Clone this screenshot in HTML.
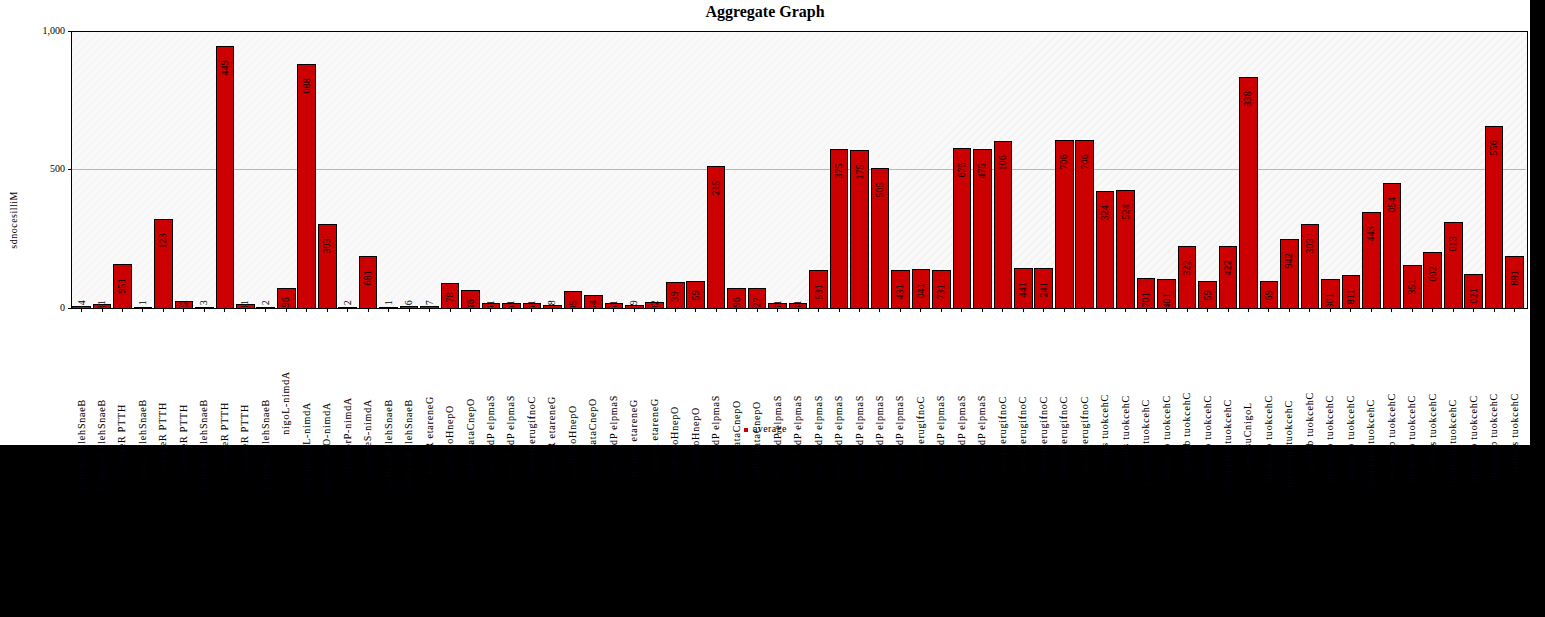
<!DOCTYPE html>
<html><head><meta charset="utf-8"><style>
html,body{margin:0;padding:0;background:#fff;}
body{width:1545px;height:617px;position:relative;overflow:hidden;font-family:"Liberation Serif",serif;color:#000;}
.title{position:absolute;left:0;width:1530px;top:3px;text-align:center;font-weight:bold;font-size:16px;line-height:18px;}
.plot{position:absolute;left:70.5px;top:30.5px;width:1455px;height:276px;border:1.6px solid transparent;
 background-color:#f9f9f9;
 background-image:repeating-linear-gradient(-45deg, rgba(0,0,0,0) 0px, rgba(0,0,0,0) 4.66px, #f2f2f2 4.66px, #f2f2f2 5.66px);}
.grid{position:absolute;left:72px;width:1454px;top:169px;height:1px;background:#b2b8b8;}
.b{position:absolute;width:16.6px;background:#cc0000;border:1px solid #000;border-bottom:none;box-sizing:content-box;}
.pb{position:absolute;left:70.5px;top:30.5px;width:1455px;height:276px;border:1.6px solid #000;}
.xt{position:absolute;top:309px;width:1px;height:3px;background:#000;}
.yt{position:absolute;left:67.5px;width:4px;height:1.4px;background:#000;}
.yl{position:absolute;right:1480px;font-size:10px;line-height:10px;text-align:right;}
.v,.xl{position:absolute;writing-mode:vertical-rl;transform:rotate(180deg);font-size:10px;line-height:12px;white-space:nowrap;}
.xl{letter-spacing:0.8px;-webkit-text-stroke:0.07px #000;}
.v{letter-spacing:0.2px;}
.ytitle{position:absolute;left:8px;top:191px;writing-mode:vertical-rl;transform:rotate(180deg);letter-spacing:0.5px;font-size:10px;line-height:12px;white-space:nowrap;}
.clip{position:absolute;left:0;top:0;width:1530px;height:307px;overflow:hidden;}
.dk{position:absolute;left:0;top:445px;width:1530px;height:172px;overflow:hidden;color:#040414;}
.blk{position:absolute;background:#000;}
.leg{position:absolute;left:744px;top:428px;width:4px;height:4px;background:#cc0000;}
.legt{position:absolute;left:753px;top:423px;font-size:10px;line-height:12px;letter-spacing:0.4px;}
</style></head><body>
<div class="title">Aggregate Graph</div>
<div class="plot"></div>
<div class="grid"></div>
<div class="b" style="left:72.23px;top:306.39px;height:1.11px"></div>
<div class="b" style="left:92.70px;top:303.63px;height:3.87px"></div>
<div class="b" style="left:113.18px;top:263.54px;height:43.96px"></div>
<div class="b" style="left:133.65px;top:307.22px;height:0.28px"></div>
<div class="b" style="left:154.12px;top:218.74px;height:88.76px"></div>
<div class="b" style="left:174.59px;top:301.42px;height:6.08px"></div>
<div class="b" style="left:195.07px;top:306.67px;height:0.83px"></div>
<div class="b" style="left:215.54px;top:46.48px;height:261.02px"></div>
<div class="b" style="left:236.01px;top:303.63px;height:3.87px"></div>
<div class="b" style="left:256.49px;top:306.95px;height:0.55px"></div>
<div class="b" style="left:276.96px;top:288.42px;height:19.08px"></div>
<div class="b" style="left:297.43px;top:64.18px;height:243.32px"></div>
<div class="b" style="left:317.91px;top:223.72px;height:83.78px"></div>
<div class="b" style="left:338.38px;top:306.95px;height:0.55px"></div>
<div class="b" style="left:358.85px;top:256.07px;height:51.43px"></div>
<div class="b" style="left:379.32px;top:307.22px;height:0.28px"></div>
<div class="b" style="left:399.80px;top:305.84px;height:1.66px"></div>
<div class="b" style="left:420.27px;top:305.56px;height:1.94px"></div>
<div class="b" style="left:440.74px;top:283.44px;height:24.06px"></div>
<div class="b" style="left:461.22px;top:289.80px;height:17.70px"></div>
<div class="b" style="left:481.69px;top:303.08px;height:4.42px"></div>
<div class="b" style="left:502.16px;top:303.08px;height:4.42px"></div>
<div class="b" style="left:522.64px;top:303.08px;height:4.42px"></div>
<div class="b" style="left:543.11px;top:305.29px;height:2.21px"></div>
<div class="b" style="left:563.58px;top:291.19px;height:16.31px"></div>
<div class="b" style="left:584.06px;top:295.06px;height:12.44px"></div>
<div class="b" style="left:604.53px;top:303.08px;height:4.42px"></div>
<div class="b" style="left:625.00px;top:305.01px;height:2.49px"></div>
<div class="b" style="left:645.47px;top:301.97px;height:5.53px"></div>
<div class="b" style="left:665.95px;top:281.79px;height:25.71px"></div>
<div class="b" style="left:686.42px;top:281.23px;height:26.27px"></div>
<div class="b" style="left:706.89px;top:165.93px;height:141.57px"></div>
<div class="b" style="left:727.37px;top:288.42px;height:19.08px"></div>
<div class="b" style="left:747.84px;top:287.59px;height:19.91px"></div>
<div class="b" style="left:768.31px;top:303.08px;height:4.42px"></div>
<div class="b" style="left:788.78px;top:303.08px;height:4.42px"></div>
<div class="b" style="left:809.26px;top:270.17px;height:37.33px"></div>
<div class="b" style="left:829.73px;top:149.07px;height:158.43px"></div>
<div class="b" style="left:850.20px;top:149.62px;height:157.88px"></div>
<div class="b" style="left:870.68px;top:167.87px;height:139.63px"></div>
<div class="b" style="left:891.15px;top:270.45px;height:37.05px"></div>
<div class="b" style="left:911.62px;top:268.79px;height:38.71px"></div>
<div class="b" style="left:932.10px;top:269.62px;height:37.88px"></div>
<div class="b" style="left:952.57px;top:148.24px;height:159.26px"></div>
<div class="b" style="left:973.04px;top:148.79px;height:158.71px"></div>
<div class="b" style="left:993.51px;top:141.32px;height:166.18px"></div>
<div class="b" style="left:1013.99px;top:267.68px;height:39.82px"></div>
<div class="b" style="left:1034.46px;top:268.24px;height:39.26px"></div>
<div class="b" style="left:1054.93px;top:139.66px;height:167.84px"></div>
<div class="b" style="left:1075.41px;top:139.66px;height:167.84px"></div>
<div class="b" style="left:1095.88px;top:190.54px;height:116.96px"></div>
<div class="b" style="left:1116.35px;top:189.99px;height:117.51px"></div>
<div class="b" style="left:1136.83px;top:277.91px;height:29.59px"></div>
<div class="b" style="left:1157.30px;top:278.74px;height:28.76px"></div>
<div class="b" style="left:1177.77px;top:245.84px;height:61.66px"></div>
<div class="b" style="left:1198.24px;top:281.23px;height:26.27px"></div>
<div class="b" style="left:1218.72px;top:245.56px;height:61.94px"></div>
<div class="b" style="left:1239.19px;top:77.18px;height:230.32px"></div>
<div class="b" style="left:1259.66px;top:280.96px;height:26.54px"></div>
<div class="b" style="left:1280.14px;top:238.65px;height:68.85px"></div>
<div class="b" style="left:1300.61px;top:223.72px;height:83.78px"></div>
<div class="b" style="left:1321.08px;top:279.02px;height:28.48px"></div>
<div class="b" style="left:1341.56px;top:274.87px;height:32.63px"></div>
<div class="b" style="left:1362.03px;top:212.38px;height:95.12px"></div>
<div class="b" style="left:1382.50px;top:183.07px;height:124.43px"></div>
<div class="b" style="left:1402.97px;top:265.20px;height:42.30px"></div>
<div class="b" style="left:1423.45px;top:252.20px;height:55.30px"></div>
<div class="b" style="left:1443.92px;top:221.78px;height:85.72px"></div>
<div class="b" style="left:1464.39px;top:274.32px;height:33.18px"></div>
<div class="b" style="left:1484.87px;top:126.39px;height:181.11px"></div>
<div class="b" style="left:1505.34px;top:255.52px;height:51.98px"></div>
<div class="xt" style="left:81.03px"></div>
<div class="xt" style="left:101.50px"></div>
<div class="xt" style="left:121.98px"></div>
<div class="xt" style="left:142.45px"></div>
<div class="xt" style="left:162.92px"></div>
<div class="xt" style="left:183.39px"></div>
<div class="xt" style="left:203.87px"></div>
<div class="xt" style="left:224.34px"></div>
<div class="xt" style="left:244.81px"></div>
<div class="xt" style="left:265.29px"></div>
<div class="xt" style="left:285.76px"></div>
<div class="xt" style="left:306.23px"></div>
<div class="xt" style="left:326.71px"></div>
<div class="xt" style="left:347.18px"></div>
<div class="xt" style="left:367.65px"></div>
<div class="xt" style="left:388.12px"></div>
<div class="xt" style="left:408.60px"></div>
<div class="xt" style="left:429.07px"></div>
<div class="xt" style="left:449.54px"></div>
<div class="xt" style="left:470.02px"></div>
<div class="xt" style="left:490.49px"></div>
<div class="xt" style="left:510.96px"></div>
<div class="xt" style="left:531.44px"></div>
<div class="xt" style="left:551.91px"></div>
<div class="xt" style="left:572.38px"></div>
<div class="xt" style="left:592.86px"></div>
<div class="xt" style="left:613.33px"></div>
<div class="xt" style="left:633.80px"></div>
<div class="xt" style="left:654.27px"></div>
<div class="xt" style="left:674.75px"></div>
<div class="xt" style="left:695.22px"></div>
<div class="xt" style="left:715.69px"></div>
<div class="xt" style="left:736.17px"></div>
<div class="xt" style="left:756.64px"></div>
<div class="xt" style="left:777.11px"></div>
<div class="xt" style="left:797.58px"></div>
<div class="xt" style="left:818.06px"></div>
<div class="xt" style="left:838.53px"></div>
<div class="xt" style="left:859.00px"></div>
<div class="xt" style="left:879.48px"></div>
<div class="xt" style="left:899.95px"></div>
<div class="xt" style="left:920.42px"></div>
<div class="xt" style="left:940.90px"></div>
<div class="xt" style="left:961.37px"></div>
<div class="xt" style="left:981.84px"></div>
<div class="xt" style="left:1002.31px"></div>
<div class="xt" style="left:1022.79px"></div>
<div class="xt" style="left:1043.26px"></div>
<div class="xt" style="left:1063.73px"></div>
<div class="xt" style="left:1084.21px"></div>
<div class="xt" style="left:1104.68px"></div>
<div class="xt" style="left:1125.15px"></div>
<div class="xt" style="left:1145.63px"></div>
<div class="xt" style="left:1166.10px"></div>
<div class="xt" style="left:1186.57px"></div>
<div class="xt" style="left:1207.04px"></div>
<div class="xt" style="left:1227.52px"></div>
<div class="xt" style="left:1247.99px"></div>
<div class="xt" style="left:1268.46px"></div>
<div class="xt" style="left:1288.94px"></div>
<div class="xt" style="left:1309.41px"></div>
<div class="xt" style="left:1329.88px"></div>
<div class="xt" style="left:1350.36px"></div>
<div class="xt" style="left:1370.83px"></div>
<div class="xt" style="left:1391.30px"></div>
<div class="xt" style="left:1411.77px"></div>
<div class="xt" style="left:1432.25px"></div>
<div class="xt" style="left:1452.72px"></div>
<div class="xt" style="left:1473.19px"></div>
<div class="xt" style="left:1493.67px"></div>
<div class="xt" style="left:1514.14px"></div>
<div class="pb"></div>
<div class="yt" style="top:30.5px"></div>
<div class="yt" style="top:168.5px"></div>
<div class="yt" style="top:307.5px"></div>
<div class="yl" style="top:26px">1,000</div>
<div class="yl" style="top:164px">500</div>
<div class="yl" style="top:303px">0</div>
<div class="ytitle">sdnocesilliM</div>
<div class="clip"><div class="v" style="left:75.53px;top:299.50px">4</div>
<div class="v" style="left:96.00px;top:299.50px">41</div>
<div class="v" style="left:116.48px;top:277.54px">951</div>
<div class="v" style="left:136.95px;top:299.50px">1</div>
<div class="v" style="left:157.42px;top:232.74px">123</div>
<div class="v" style="left:177.89px;top:299.50px">22</div>
<div class="v" style="left:198.37px;top:299.50px">3</div>
<div class="v" style="left:218.84px;top:60.48px">449</div>
<div class="v" style="left:239.31px;top:299.50px">41</div>
<div class="v" style="left:259.79px;top:299.50px">2</div>
<div class="v" style="left:280.26px;top:297.42px">96</div>
<div class="v" style="left:300.73px;top:78.18px">088</div>
<div class="v" style="left:321.21px;top:237.72px">303</div>
<div class="v" style="left:341.68px;top:299.50px">2</div>
<div class="v" style="left:362.15px;top:270.07px">681</div>
<div class="v" style="left:382.62px;top:299.50px">1</div>
<div class="v" style="left:403.10px;top:299.50px">6</div>
<div class="v" style="left:423.57px;top:299.50px">7</div>
<div class="v" style="left:444.04px;top:292.44px">78</div>
<div class="v" style="left:464.52px;top:298.80px">46</div>
<div class="v" style="left:484.99px;top:299.50px">61</div>
<div class="v" style="left:505.46px;top:299.50px">61</div>
<div class="v" style="left:525.94px;top:299.50px">61</div>
<div class="v" style="left:546.41px;top:299.50px">8</div>
<div class="v" style="left:566.88px;top:299.50px">95</div>
<div class="v" style="left:587.36px;top:299.50px">54</div>
<div class="v" style="left:607.83px;top:299.50px">61</div>
<div class="v" style="left:628.30px;top:299.50px">9</div>
<div class="v" style="left:648.77px;top:299.50px">02</div>
<div class="v" style="left:669.25px;top:290.79px">39</div>
<div class="v" style="left:689.72px;top:290.23px">59</div>
<div class="v" style="left:710.19px;top:179.93px">215</div>
<div class="v" style="left:730.67px;top:297.42px">96</div>
<div class="v" style="left:751.14px;top:296.59px">27</div>
<div class="v" style="left:771.61px;top:299.50px">61</div>
<div class="v" style="left:792.08px;top:299.50px">61</div>
<div class="v" style="left:812.56px;top:284.17px">531</div>
<div class="v" style="left:833.03px;top:163.07px">375</div>
<div class="v" style="left:853.50px;top:163.62px">175</div>
<div class="v" style="left:873.98px;top:181.87px">505</div>
<div class="v" style="left:894.45px;top:284.45px">431</div>
<div class="v" style="left:914.92px;top:282.79px">041</div>
<div class="v" style="left:935.40px;top:283.62px">731</div>
<div class="v" style="left:955.87px;top:162.24px">675</div>
<div class="v" style="left:976.34px;top:162.79px">475</div>
<div class="v" style="left:996.81px;top:155.32px">106</div>
<div class="v" style="left:1017.29px;top:281.68px">441</div>
<div class="v" style="left:1037.76px;top:282.24px">241</div>
<div class="v" style="left:1058.23px;top:153.66px">706</div>
<div class="v" style="left:1078.71px;top:153.66px">706</div>
<div class="v" style="left:1099.18px;top:204.54px">324</div>
<div class="v" style="left:1119.65px;top:203.99px">524</div>
<div class="v" style="left:1140.13px;top:291.91px">701</div>
<div class="v" style="left:1160.60px;top:292.74px">401</div>
<div class="v" style="left:1181.07px;top:259.84px">322</div>
<div class="v" style="left:1201.54px;top:290.23px">59</div>
<div class="v" style="left:1222.02px;top:259.56px">422</div>
<div class="v" style="left:1242.49px;top:91.18px">338</div>
<div class="v" style="left:1262.96px;top:289.96px">69</div>
<div class="v" style="left:1283.44px;top:252.65px">942</div>
<div class="v" style="left:1303.91px;top:237.72px">303</div>
<div class="v" style="left:1324.38px;top:293.02px">301</div>
<div class="v" style="left:1344.86px;top:288.87px">811</div>
<div class="v" style="left:1365.33px;top:226.38px">443</div>
<div class="v" style="left:1385.80px;top:197.07px">054</div>
<div class="v" style="left:1406.27px;top:279.20px">351</div>
<div class="v" style="left:1426.75px;top:266.20px">002</div>
<div class="v" style="left:1447.22px;top:235.78px">013</div>
<div class="v" style="left:1467.69px;top:288.32px">021</div>
<div class="v" style="left:1488.17px;top:140.39px">556</div>
<div class="v" style="left:1508.64px;top:269.52px">881</div></div>
<div class="xl" style="left:75.53px;top:399.00px">relpmaS llehSnaeB</div>
<div class="xl" style="left:96.00px;top:399.00px">relpmaS llehSnaeB</div>
<div class="xl" style="left:116.48px;top:404.00px">tseuqeR PTTH</div>
<div class="xl" style="left:136.95px;top:399.00px">relpmaS llehSnaeB</div>
<div class="xl" style="left:157.42px;top:401.60px">tseuqeR PTTH</div>
<div class="xl" style="left:177.89px;top:404.30px">tseuqeR PTTH</div>
<div class="xl" style="left:198.37px;top:399.00px">relpmaS llehSnaeB</div>
<div class="xl" style="left:218.84px;top:401.60px">tseuqeR PTTH</div>
<div class="xl" style="left:239.31px;top:404.30px">tseuqeR PTTH</div>
<div class="xl" style="left:259.79px;top:399.00px">relpmaS llehSnaeB</div>
<div class="xl" style="left:280.26px;top:370.80px">nigoL-nimdA</div>
<div class="xl" style="left:300.73px;top:401.60px">egap tuogoL-nimdA</div>
<div class="xl" style="left:321.21px;top:401.60px">egap sredrO-nimdA</div>
<div class="xl" style="left:341.68px;top:397.00px">stcudorP-nimdA</div>
<div class="xl" style="left:362.15px;top:399.20px">sgnitteS-nimdA</div>
<div class="xl" style="left:382.62px;top:399.00px">corPtsoP llehSnaeB</div>
<div class="xl" style="left:403.10px;top:399.00px">corPtsoP llehSnaeB</div>
<div class="xl" style="left:423.57px;top:396.20px">tropeR etareneG</div>
<div class="xl" style="left:444.04px;top:405.20px">egaPemoHnepO</div>
<div class="xl" style="left:464.52px;top:398.00px">egaPgolataCnepO</div>
<div class="xl" style="left:484.99px;top:394.70px">reweiVfdP elpmaS</div>
<div class="xl" style="left:505.46px;top:394.70px">reweiVfdP elpmaS</div>
<div class="xl" style="left:525.94px;top:396.20px">smetI erugifnoC</div>
<div class="xl" style="left:546.41px;top:396.20px">tropeR etareneG</div>
<div class="xl" style="left:566.88px;top:405.20px">egaPemoHnepO</div>
<div class="xl" style="left:587.36px;top:398.00px">egaPgolataCnepO</div>
<div class="xl" style="left:607.83px;top:394.70px">reweiVfdP elpmaS</div>
<div class="xl" style="left:628.30px;top:399.20px">tropeR etareneG</div>
<div class="xl" style="left:648.77px;top:398.00px">tropeR etareneG</div>
<div class="xl" style="left:669.25px;top:406.10px">egaPemoHnepO</div>
<div class="xl" style="left:689.72px;top:407.00px">egaPemoHnepO</div>
<div class="xl" style="left:710.19px;top:394.70px">reweiVfdP elpmaS</div>
<div class="xl" style="left:730.67px;top:399.80px">egaPgolataCnepO</div>
<div class="xl" style="left:751.14px;top:401.00px">egaPgolataCnepO</div>
<div class="xl" style="left:771.61px;top:394.70px">reweiVfdP elpmaS</div>
<div class="xl" style="left:792.08px;top:394.70px">reweiVfdP elpmaS</div>
<div class="xl" style="left:812.56px;top:394.70px">reweiVfdP elpmaS</div>
<div class="xl" style="left:833.03px;top:394.70px">reweiVfdP elpmaS</div>
<div class="xl" style="left:853.50px;top:394.70px">reweiVfdP elpmaS</div>
<div class="xl" style="left:873.98px;top:394.70px">reweiVfdP elpmaS</div>
<div class="xl" style="left:894.45px;top:394.70px">reweiVfdP elpmaS</div>
<div class="xl" style="left:914.92px;top:396.20px">smetI erugifnoC</div>
<div class="xl" style="left:935.40px;top:394.70px">reweiVfdP elpmaS</div>
<div class="xl" style="left:955.87px;top:394.70px">reweiVfdP elpmaS</div>
<div class="xl" style="left:976.34px;top:394.70px">reweiVfdP elpmaS</div>
<div class="xl" style="left:996.81px;top:396.20px">smetI erugifnoC</div>
<div class="xl" style="left:1017.29px;top:396.20px">smetI erugifnoC</div>
<div class="xl" style="left:1037.76px;top:396.20px">smetI erugifnoC</div>
<div class="xl" style="left:1058.23px;top:396.20px">smetI erugifnoC</div>
<div class="xl" style="left:1078.71px;top:396.20px">smetI erugifnoC</div>
<div class="xl" style="left:1099.18px;top:394.30px">yrammus tuokcehC</div>
<div class="xl" style="left:1119.65px;top:395.20px">yrammus tuokcehC</div>
<div class="xl" style="left:1140.13px;top:399.00px">yawetag tuokcehC</div>
<div class="xl" style="left:1160.60px;top:395.20px">tnemyap tuokcehC</div>
<div class="xl" style="left:1181.07px;top:391.60px">gnillib tuokcehC</div>
<div class="xl" style="left:1201.54px;top:395.20px">tnemyap tuokcehC</div>
<div class="xl" style="left:1222.02px;top:398.50px">gnippihs tuokcehC</div>
<div class="xl" style="left:1242.49px;top:401.60px">remotsuCnigoL</div>
<div class="xl" style="left:1262.96px;top:395.20px">tnemyap tuokcehC</div>
<div class="xl" style="left:1283.44px;top:399.80px">tnemyap tuokcehC</div>
<div class="xl" style="left:1303.91px;top:391.60px">gnillib tuokcehC</div>
<div class="xl" style="left:1324.38px;top:395.20px">tnemyap tuokcehC</div>
<div class="xl" style="left:1344.86px;top:395.20px">tnemyap tuokcehC</div>
<div class="xl" style="left:1365.33px;top:398.50px">gnippihs tuokcehC</div>
<div class="xl" style="left:1385.80px;top:393.40px">tnemyap tuokcehC</div>
<div class="xl" style="left:1406.27px;top:395.20px">tnemyap tuokcehC</div>
<div class="xl" style="left:1426.75px;top:392.50px">timbus tuokcehC</div>
<div class="xl" style="left:1447.22px;top:399.10px">tnemyap tuokcehC</div>
<div class="xl" style="left:1467.69px;top:395.00px">tnemyap tuokcehC</div>
<div class="xl" style="left:1488.17px;top:393.30px">tnemyap tuokcehC</div>
<div class="xl" style="left:1508.64px;top:392.50px">timbus tuokcehC</div>
<div class="leg"></div><div class="legt">average</div>
<div class="blk" style="left:0;top:445px;width:1545px;height:172px"></div>
<div class="blk" style="left:1530px;top:0;width:15px;height:617px"></div>
<div class="dk"><div class="xl" style="left:75.53px;top:-46.00px">relpmaS llehSnaeB</div>
<div class="xl" style="left:96.00px;top:-46.00px">relpmaS llehSnaeB</div>
<div class="xl" style="left:116.48px;top:-41.00px">tseuqeR PTTH</div>
<div class="xl" style="left:136.95px;top:-46.00px">relpmaS llehSnaeB</div>
<div class="xl" style="left:157.42px;top:-43.40px">tseuqeR PTTH</div>
<div class="xl" style="left:177.89px;top:-40.70px">tseuqeR PTTH</div>
<div class="xl" style="left:198.37px;top:-46.00px">relpmaS llehSnaeB</div>
<div class="xl" style="left:218.84px;top:-43.40px">tseuqeR PTTH</div>
<div class="xl" style="left:239.31px;top:-40.70px">tseuqeR PTTH</div>
<div class="xl" style="left:259.79px;top:-46.00px">relpmaS llehSnaeB</div>
<div class="xl" style="left:280.26px;top:-74.20px">nigoL-nimdA</div>
<div class="xl" style="left:300.73px;top:-43.40px">egap tuogoL-nimdA</div>
<div class="xl" style="left:321.21px;top:-43.40px">egap sredrO-nimdA</div>
<div class="xl" style="left:341.68px;top:-48.00px">stcudorP-nimdA</div>
<div class="xl" style="left:362.15px;top:-45.80px">sgnitteS-nimdA</div>
<div class="xl" style="left:382.62px;top:-46.00px">corPtsoP llehSnaeB</div>
<div class="xl" style="left:403.10px;top:-46.00px">corPtsoP llehSnaeB</div>
<div class="xl" style="left:423.57px;top:-48.80px">tropeR etareneG</div>
<div class="xl" style="left:444.04px;top:-39.80px">egaPemoHnepO</div>
<div class="xl" style="left:464.52px;top:-47.00px">egaPgolataCnepO</div>
<div class="xl" style="left:484.99px;top:-50.30px">reweiVfdP elpmaS</div>
<div class="xl" style="left:505.46px;top:-50.30px">reweiVfdP elpmaS</div>
<div class="xl" style="left:525.94px;top:-48.80px">smetI erugifnoC</div>
<div class="xl" style="left:546.41px;top:-48.80px">tropeR etareneG</div>
<div class="xl" style="left:566.88px;top:-39.80px">egaPemoHnepO</div>
<div class="xl" style="left:587.36px;top:-47.00px">egaPgolataCnepO</div>
<div class="xl" style="left:607.83px;top:-50.30px">reweiVfdP elpmaS</div>
<div class="xl" style="left:628.30px;top:-45.80px">tropeR etareneG</div>
<div class="xl" style="left:648.77px;top:-47.00px">tropeR etareneG</div>
<div class="xl" style="left:669.25px;top:-38.90px">egaPemoHnepO</div>
<div class="xl" style="left:689.72px;top:-38.00px">egaPemoHnepO</div>
<div class="xl" style="left:710.19px;top:-50.30px">reweiVfdP elpmaS</div>
<div class="xl" style="left:730.67px;top:-45.20px">egaPgolataCnepO</div>
<div class="xl" style="left:751.14px;top:-44.00px">egaPgolataCnepO</div>
<div class="xl" style="left:771.61px;top:-50.30px">reweiVfdP elpmaS</div>
<div class="xl" style="left:792.08px;top:-50.30px">reweiVfdP elpmaS</div>
<div class="xl" style="left:812.56px;top:-50.30px">reweiVfdP elpmaS</div>
<div class="xl" style="left:833.03px;top:-50.30px">reweiVfdP elpmaS</div>
<div class="xl" style="left:853.50px;top:-50.30px">reweiVfdP elpmaS</div>
<div class="xl" style="left:873.98px;top:-50.30px">reweiVfdP elpmaS</div>
<div class="xl" style="left:894.45px;top:-50.30px">reweiVfdP elpmaS</div>
<div class="xl" style="left:914.92px;top:-48.80px">smetI erugifnoC</div>
<div class="xl" style="left:935.40px;top:-50.30px">reweiVfdP elpmaS</div>
<div class="xl" style="left:955.87px;top:-50.30px">reweiVfdP elpmaS</div>
<div class="xl" style="left:976.34px;top:-50.30px">reweiVfdP elpmaS</div>
<div class="xl" style="left:996.81px;top:-48.80px">smetI erugifnoC</div>
<div class="xl" style="left:1017.29px;top:-48.80px">smetI erugifnoC</div>
<div class="xl" style="left:1037.76px;top:-48.80px">smetI erugifnoC</div>
<div class="xl" style="left:1058.23px;top:-48.80px">smetI erugifnoC</div>
<div class="xl" style="left:1078.71px;top:-48.80px">smetI erugifnoC</div>
<div class="xl" style="left:1099.18px;top:-50.70px">yrammus tuokcehC</div>
<div class="xl" style="left:1119.65px;top:-49.80px">yrammus tuokcehC</div>
<div class="xl" style="left:1140.13px;top:-46.00px">yawetag tuokcehC</div>
<div class="xl" style="left:1160.60px;top:-49.80px">tnemyap tuokcehC</div>
<div class="xl" style="left:1181.07px;top:-53.40px">gnillib tuokcehC</div>
<div class="xl" style="left:1201.54px;top:-49.80px">tnemyap tuokcehC</div>
<div class="xl" style="left:1222.02px;top:-46.50px">gnippihs tuokcehC</div>
<div class="xl" style="left:1242.49px;top:-43.40px">remotsuCnigoL</div>
<div class="xl" style="left:1262.96px;top:-49.80px">tnemyap tuokcehC</div>
<div class="xl" style="left:1283.44px;top:-45.20px">tnemyap tuokcehC</div>
<div class="xl" style="left:1303.91px;top:-53.40px">gnillib tuokcehC</div>
<div class="xl" style="left:1324.38px;top:-49.80px">tnemyap tuokcehC</div>
<div class="xl" style="left:1344.86px;top:-49.80px">tnemyap tuokcehC</div>
<div class="xl" style="left:1365.33px;top:-46.50px">gnippihs tuokcehC</div>
<div class="xl" style="left:1385.80px;top:-51.60px">tnemyap tuokcehC</div>
<div class="xl" style="left:1406.27px;top:-49.80px">tnemyap tuokcehC</div>
<div class="xl" style="left:1426.75px;top:-52.50px">timbus tuokcehC</div>
<div class="xl" style="left:1447.22px;top:-45.90px">tnemyap tuokcehC</div>
<div class="xl" style="left:1467.69px;top:-50.00px">tnemyap tuokcehC</div>
<div class="xl" style="left:1488.17px;top:-51.70px">tnemyap tuokcehC</div>
<div class="xl" style="left:1508.64px;top:-52.50px">timbus tuokcehC</div></div>
</body></html>
